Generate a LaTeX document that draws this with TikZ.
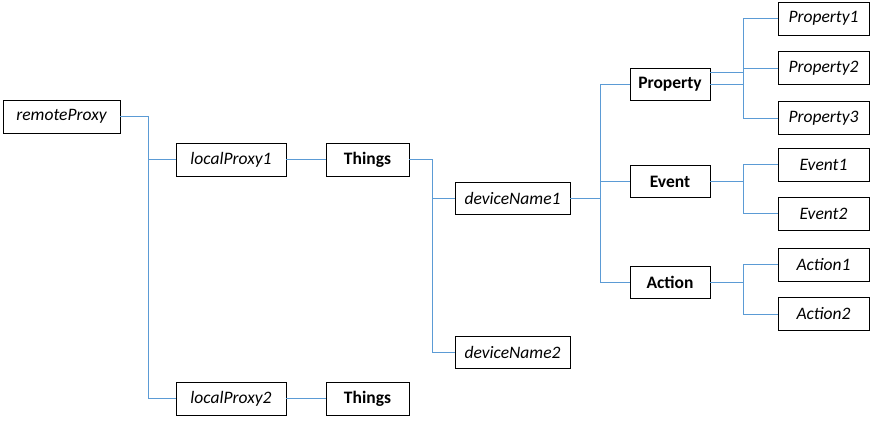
\documentclass[tikz,border=0pt]{standalone}
\usepackage{fontspec}
\setmainfont{Carlito}
\begin{document}
\begin{tikzpicture}[x=1pt,y=-1pt,
  box/.style={draw=black, line width=0.9pt, inner sep=0pt, minimum height=33pt, font=\fontsize{17.5}{20}\selectfont},
  ibox/.style={box, font=\fontsize{17.5}{20}\selectfont\itshape},
  bbox/.style={box, font=\fontsize{17.5}{20}\selectfont\bfseries},
  link/.style={draw={rgb,255:red,91;green,155;blue,213}, line width=1pt}]
\useasboundingbox (0,0) rectangle (872,421);

% proxies
\node[ibox, minimum width=117pt] (remote) at (61.5,116.5) {remoteProxy};
\node[ibox, minimum width=110pt] (local1) at (231,159.5) {localProxy1};
\node[ibox, minimum width=110pt] (local2) at (231,398.5) {localProxy2};
\node[bbox, minimum width=83pt] (things1) at (367.5,159.5) {Things};
\node[bbox, minimum width=83pt] (things2) at (367.5,398.5) {Things};

% devices
\node[ibox, minimum width=115pt, minimum height=32pt] (dev1) at (512.5,198) {deviceName1};
\node[ibox, minimum width=115pt, minimum height=32pt] (dev2) at (512.5,352) {deviceName2};

% groups
\node[bbox, minimum width=80pt, minimum height=32pt] (prop) at (670,84) {Property};
\node[bbox, minimum width=80pt, minimum height=32pt] (event) at (670,181.5) {Event};
\node[bbox, minimum width=80pt, minimum height=32pt] (action) at (670,282) {Action};

% leaves
\node[ibox, minimum width=91pt] (prop1) at (823.5,18.5) {Property1};
\node[ibox, minimum width=91pt] (prop2) at (823.5,68) {Property2};
\node[ibox, minimum width=91pt] (prop3) at (823.5,118) {Property3};
\node[ibox, minimum width=91pt] (event1) at (823.5,164.5) {Event1};
\node[ibox, minimum width=91pt] (event2) at (823.5,213.5) {Event2};
\node[ibox, minimum width=91pt] (action1) at (823.5,264.5) {Action1};
\node[ibox, minimum width=91pt] (action2) at (823.5,314) {Action2};

% bus lines
\coordinate (busA) at (148,0);
\coordinate (busB) at (432,0);
\coordinate (busC) at (600,0);
\coordinate (busD) at (743,0);
\coordinate (propup) at ([yshift=11.3pt]prop.east);

\draw[link] (remote.east) -| (busA |- local2.west) -- (local2.west);
\draw[link] (busA |- local1.west) -- (local1.west);
\draw[link] (local1) -- (things1);
\draw[link] (local2) -- (things2);

\draw[link] (things1.east) -| (busB |- dev2.west) -- (dev2.west);
\draw[link] (busB |- dev1.west) -- (dev1.west);

\draw[link] (dev1.east) -- (busC |- dev1.east);
\draw[link] (prop.west) -| (busC |- action.west) -- (action.west);
\draw[link] (busC |- event.west) -- (event.west);

\draw[link] (prop1.west) -| (busD |- prop3.west) -- (prop3.west);
\draw[link] (busD |- prop2.west) -- (prop2.west);
\draw[link] (prop.east) -- (busD |- prop.east);
\draw[link] (propup) -- (busD |- propup);

\draw[link] (event1.west) -| (busD |- event2.west) -- (event2.west);
\draw[link] (event.east) -- (busD |- event.east);

\draw[link] (action1.west) -| (busD |- action2.west) -- (action2.west);
\draw[link] (action.east) -- (busD |- action.east);

\end{tikzpicture}
\end{document}
